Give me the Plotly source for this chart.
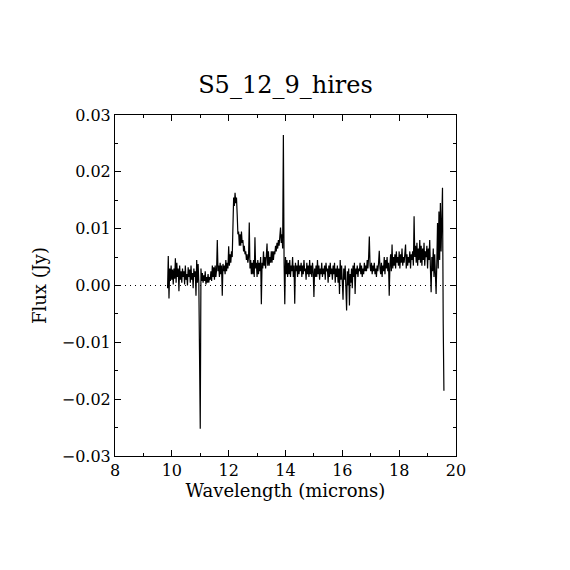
import plotly.graph_objects as go

# Wavelength grid (microns), one row per 0.25 micron
wavelength = [
    9.850, 9.875, 9.900, 9.925, 9.950, 9.975, 10.000, 10.025, 10.050, 10.075,
    10.100, 10.125, 10.150, 10.175, 10.200, 10.225, 10.250, 10.275, 10.300, 10.325,
    10.350, 10.375, 10.400, 10.425, 10.450, 10.475, 10.500, 10.525, 10.550, 10.575,
    10.600, 10.625, 10.650, 10.675, 10.700, 10.725, 10.750, 10.775, 10.800, 10.825,
    10.850, 10.875, 10.900, 10.925, 10.950, 10.975, 11.000, 11.025, 11.050, 11.075,
    11.100, 11.125, 11.150, 11.175, 11.200, 11.225, 11.250, 11.275, 11.300, 11.325,
    11.350, 11.375, 11.400, 11.425, 11.450, 11.475, 11.500, 11.525, 11.550, 11.575,
    11.600, 11.625, 11.650, 11.675, 11.700, 11.725, 11.750, 11.775, 11.800, 11.825,
    11.850, 11.875, 11.900, 11.925, 11.950, 11.975, 12.000, 12.025, 12.050, 12.075,
    12.100, 12.125, 12.150, 12.175, 12.200, 12.225, 12.250, 12.275, 12.300, 12.325,
    12.350, 12.375, 12.400, 12.425, 12.450, 12.475, 12.500, 12.525, 12.550, 12.575,
    12.600, 12.625, 12.650, 12.675, 12.700, 12.725, 12.750, 12.775, 12.800, 12.825,
    12.850, 12.875, 12.900, 12.925, 12.950, 12.975, 13.000, 13.025, 13.050, 13.075,
    13.100, 13.125, 13.150, 13.175, 13.200, 13.225, 13.250, 13.275, 13.300, 13.325,
    13.350, 13.375, 13.400, 13.425, 13.450, 13.475, 13.500, 13.525, 13.550, 13.575,
    13.600, 13.625, 13.650, 13.675, 13.700, 13.725, 13.750, 13.775, 13.800, 13.825,
    13.850, 13.875, 13.900, 13.925, 13.950, 13.975, 14.000, 14.025, 14.050, 14.075,
    14.100, 14.125, 14.150, 14.175, 14.200, 14.225, 14.250, 14.275, 14.300, 14.325,
    14.350, 14.375, 14.400, 14.425, 14.450, 14.475, 14.500, 14.525, 14.550, 14.575,
    14.600, 14.625, 14.650, 14.675, 14.700, 14.725, 14.750, 14.775, 14.800, 14.825,
    14.850, 14.875, 14.900, 14.925, 14.950, 14.975, 15.000, 15.025, 15.050, 15.075,
    15.100, 15.125, 15.150, 15.175, 15.200, 15.225, 15.250, 15.275, 15.300, 15.325,
    15.350, 15.375, 15.400, 15.425, 15.450, 15.475, 15.500, 15.525, 15.550, 15.575,
    15.600, 15.625, 15.650, 15.675, 15.700, 15.725, 15.750, 15.775, 15.800, 15.825,
    15.850, 15.875, 15.900, 15.925, 15.950, 15.975, 16.000, 16.025, 16.050, 16.075,
    16.100, 16.125, 16.150, 16.175, 16.200, 16.225, 16.250, 16.275, 16.300, 16.325,
    16.350, 16.375, 16.400, 16.425, 16.450, 16.475, 16.500, 16.525, 16.550, 16.575,
    16.600, 16.625, 16.650, 16.675, 16.700, 16.725, 16.750, 16.775, 16.800, 16.825,
    16.850, 16.875, 16.900, 16.925, 16.950, 16.975, 17.000, 17.025, 17.050, 17.075,
    17.100, 17.125, 17.150, 17.175, 17.200, 17.225, 17.250, 17.275, 17.300, 17.325,
    17.350, 17.375, 17.400, 17.425, 17.450, 17.475, 17.500, 17.525, 17.550, 17.575,
    17.600, 17.625, 17.650, 17.675, 17.700, 17.725, 17.750, 17.775, 17.800, 17.825,
    17.850, 17.875, 17.900, 17.925, 17.950, 17.975, 18.000, 18.025, 18.050, 18.075,
    18.100, 18.125, 18.150, 18.175, 18.200, 18.225, 18.250, 18.275, 18.300, 18.325,
    18.350, 18.375, 18.400, 18.425, 18.450, 18.475, 18.500, 18.525, 18.550, 18.575,
    18.600, 18.625, 18.650, 18.675, 18.700, 18.725, 18.750, 18.775, 18.800, 18.825,
    18.850, 18.875, 18.900, 18.925, 18.950, 18.975, 19.000, 19.025, 19.050, 19.075,
    19.100, 19.125, 19.150, 19.175, 19.200, 19.225, 19.250, 19.275, 19.300, 19.325,
    19.350, 19.375, 19.400, 19.425, 19.450, 19.475, 19.500, 19.525, 19.550, 19.575,
]

# Flux in mJy, same row layout
flux_mjy = [
    -0.5, 5.2, -2.3, 3.0, 0.8, 3.5, 1.0, 2.8, 0.2, 3.0,
    1.2, 4.8, 0.5, 4.0, 1.5, 3.0, -1.0, 3.5, 1.0, 2.5,
    0.5, 3.0, 1.5, 2.5, 0.2, 3.5, 1.0, 2.0, 0.0, 3.2,
    1.5, 2.8, 0.5, 3.5, 1.0, 2.2, -0.5, 3.0, 1.5, 2.5,
    -1.8, 4.5, 0.5, 3.8, 0.5, -22.0, -25.2, 3.0, 0.8, 2.2,
    0.5, 1.8, 0.8, 2.5, 0.2, 1.5, 0.5, 2.0, 0.5, 1.5,
    1.0, 2.5, 0.8, 3.5, 1.5, 3.2, 1.0, 3.5, 1.5, 2.8,
    8.0, 2.5, 3.5, 1.5, 4.0, 2.0, 3.5, -1.8, 3.8, 2.5,
    3.5, 2.0, 4.5, 2.5, 4.0, 3.0, 6.9, 3.5, 5.5, 4.0,
    6.0, 5.0, 13.5, 15.5, 14.0, 16.3, 14.5, 15.5, 12.5, 9.0,
    9.5, 7.0, 9.0, 7.0, 9.5, 7.5, 8.0, 6.0, 7.0, 5.5,
    6.0, 4.5, 5.5, 4.0, 5.0, 11.1, 3.0, 4.5, 2.0, 4.0,
    2.0, 4.5, 1.5, 8.5, 3.0, 4.0, 1.5, 4.5, 2.0, 4.0,
    2.5, 5.0, -3.3, 4.0, 3.0, 6.0, 3.5, 5.0, 3.0, 5.5,
    7.4, 3.5, 6.0, 3.5, 5.0, 4.0, 6.0, 4.0, 6.0, 4.5,
    6.0, 5.5, 7.0, 6.0, 7.5, 6.5, 8.0, 7.0, 8.5, 10.2,
    7.5, 9.0, 6.5, 26.5, 4.0, -3.3, 5.0, 2.0, 4.5, 1.5,
    4.0, 2.0, 4.5, 1.5, 3.5, 2.5, 5.0, 1.5, 3.5, -3.2,
    4.0, 2.5, 3.5, 1.5, 4.5, 2.0, 3.5, 2.5, 4.0, 1.5,
    3.5, 2.0, 4.5, 2.5, 3.0, 1.0, 4.0, 2.0, 3.5, 1.5,
    4.5, 2.0, 3.5, 1.5, 4.0, 2.5, -2.0, 3.0, 1.5, 3.5,
    1.5, 4.5, 2.0, 3.5, 1.0, 3.0, 2.0, 4.0, 1.5, 3.0,
    2.0, 3.5, 1.0, 4.0, 2.5, 3.0, 0.5, 3.5, 1.5, 4.0,
    2.0, 3.0, 1.0, 3.5, 2.0, 4.0, 0.5, 3.0, 1.5, 3.5,
    0.5, 3.0, -1.5, 4.5, 1.0, 3.5, 0.5, -2.5, 3.0, 1.0,
    3.5, -1.0, -4.4, 2.5, 0.0, 3.0, -3.5, 2.0, 0.5, 3.0,
    -0.5, 3.5, 1.5, 4.0, -1.5, 3.0, 2.0, 3.5, 1.5, 3.0,
    2.5, 4.0, 2.0, 3.5, 1.5, 3.0, 2.0, 4.0, 2.5, 3.5,
    2.5, 4.5, 3.0, 5.0, 8.6, 3.5, 2.5, 4.0, 2.0, 3.5,
    2.5, 4.0, 2.0, 3.0, 1.5, 3.5, 2.5, 4.0, 6.1, 3.0,
    2.0, 4.0, 1.5, 3.5, 2.5, 5.0, 2.0, 4.5, 3.0, 5.0,
    2.5, 4.0, -1.8, 3.5, 5.5, 2.5, 7.2, 3.0, 5.0, 3.5,
    5.5, 3.0, 6.0, 4.0, 5.0, 3.5, 6.0, 3.0, 5.5, 4.0,
    6.5, 3.5, 5.0, 4.0, 6.0, 7.2, 3.0, 5.5, 3.5, 5.0,
    4.0, 6.0, 3.0, 5.5, 4.5, 6.0, 3.5, 12.2, 5.0, 7.0,
    4.0, 7.5, 3.5, 6.5, 4.5, 8.0, 4.0, 7.0, 3.5, 6.5,
    4.5, 7.5, 3.5, 6.0, 5.0, 7.0, 3.0, 6.5, 4.5, 8.0,
    3.0, -1.2, 5.0, 2.5, 6.5, 1.5, 5.5, 3.0, -1.5, 4.0,
    11.0, 3.0, 13.0, 4.5, 14.5, 6.0, 15.8, 17.2, -6.7, -18.5,
]

flux = [v / 1000.0 for v in flux_mjy]

x_range = [8, 20]
y_range = [-0.03, 0.03]
x_ticks = [8, 10, 12, 14, 16, 18, 20]
y_ticks = [-0.03, -0.02, -0.01, 0.0, 0.01, 0.02, 0.03]
y_tick_labels = ["\u22120.03", "\u22120.02", "\u22120.01", "0.00", "0.01", "0.02", "0.03"]

FONT = "DejaVu Serif"

fig = go.Figure()
fig.add_trace(go.Scatter(
    x=x_range, y=[0, 0], mode="lines",
    line=dict(color="black", width=1, dash="1px,4px"),
    hoverinfo="skip", showlegend=False,
))
fig.add_trace(go.Scatter(
    x=wavelength, y=flux, mode="lines",
    line=dict(color="black", width=1.2),
    showlegend=False,
))

axis_common = dict(
    showgrid=False, zeroline=False, showline=True, linecolor="black", linewidth=1,
    mirror="allticks", ticks="inside", tickcolor="black", ticklen=6, tickwidth=1,
    tickfont=dict(family=FONT, size=16, color="black"),
)

fig.update_xaxes(
    range=x_range, tickvals=x_ticks,
    minor=dict(ticks="inside", ticklen=3, dtick=1, tickcolor="black", showgrid=False),
    title=dict(text="Wavelength (microns)", font=dict(family=FONT, size=18, color="black"), standoff=4),
    **axis_common,
)
fig.update_yaxes(
    range=y_range, tickvals=y_ticks, ticktext=y_tick_labels,
    minor=dict(ticks="inside", ticklen=3, dtick=0.005, tickcolor="black", showgrid=False),
    title=dict(text="Flux (Jy)", font=dict(family=FONT, size=18, color="black"), standoff=10),
    **axis_common,
)

fig.update_layout(
    width=570, height=570,
    margin=dict(l=107, r=122, t=107, b=122),
    paper_bgcolor="white", plot_bgcolor="white",
    title=dict(text="S5_12_9_hires", x=(107 + 448) / 2 / 570, xanchor="center",
               y=1 - 77 / 570, yref="container",
               yanchor="middle", font=dict(family=FONT, size=24, color="black")),
    font=dict(family=FONT, color="black"),
)

fig.write_html("out.html")
